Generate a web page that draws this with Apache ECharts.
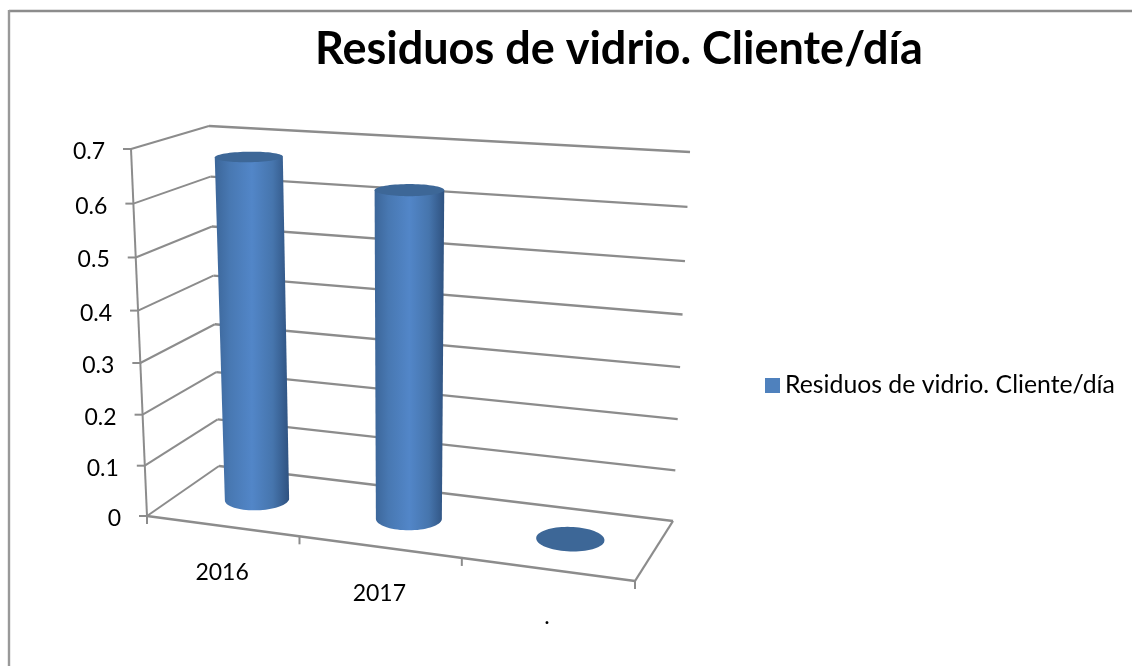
<!DOCTYPE html>
<html>
<head>
<meta charset="utf-8">
<style>html,body{margin:0;padding:0;background:#fff}#c{width:1132px;height:666px}</style>
<script src="https://cdn.jsdelivr.net/npm/echarts@6/dist/echarts.min.js"></script>
</head>
<body>
<div id="c"></div>
<script>
const titleText = 'Residuos de vidrio. Cliente/día';
const seriesName = 'Residuos de vidrio. Cliente/día';
const categories = ['2016', '2017', '.'];
const values = [0.671, 0.628, 0];
const yTicks = [0, 0.1, 0.2, 0.3, 0.4, 0.5, 0.6, 0.7];

// View of the 3D box (screen corners of the floor and of the ceiling plane)
const GRID = { left: 147, top: 149, width: 488, height: 367 };
const FLOOR = [[147, 516], [635, 581], [673, 521], [219, 466]];
const CEIL = [[131, 149], [651, 180], [690, 152], [209, 126]];
const VERT_WARP = 1.049;
const GRID_C = '#8c8c8c';
const FONT = 'Lato';

function homography(q) {
  const [x0, y0] = q[0], [x1, y1] = q[1], [x2, y2] = q[2], [x3, y3] = q[3];
  const dx1 = x1 - x2, dx2 = x3 - x2, sx = x0 - x1 + x2 - x3;
  const dy1 = y1 - y2, dy2 = y3 - y2, sy = y0 - y1 + y2 - y3;
  const den = dx1 * dy2 - dx2 * dy1;
  const g = (sx * dy2 - dx2 * sy) / den, h = (dx1 * sy - sx * dy1) / den;
  const a = x1 - x0 + g * x1, b = x3 - x0 + h * x3;
  const d = y1 - y0 + g * y1, e = y3 - y0 + h * y3;
  return (u, v) => {
    const w = g * u + h * v + 1;
    return [(a * u + b * v + x0) / w, (d * u + e * v + y0) / w];
  };
}
const floorH = homography(FLOOR), ceilH = homography(CEIL);
// u: 0..1 along categories, depth: 0 (front)..1 (back), h: 0..1 of the value axis
function project(u, depth, h) {
  const b = floorH(u, depth), t = ceilH(u, depth);
  const f = h / (h + (1 - h) * VERT_WARP);
  return [b[0] + (t[0] - b[0]) * f, b[1] + (t[1] - b[1]) * f];
}
const toU = x => (x - GRID.left) / GRID.width;
const toH = y => (GRID.top + GRID.height - y) / GRID.height;

// Axis labels follow the front edges of the box
const yMargin = 26, xMargin = 30, xLine = 26;
const yRich = {}, xRich = {};
yTicks.forEach((t, i) => {
  const h = t / yTicks[yTicks.length - 1];
  const p = project(0, 0, h);
  const linY = GRID.top + GRID.height * (1 - h);
  yRich['y' + i] = {
    fontFamily: FONT, fontSize: 23, color: '#000',
    padding: [5 + Math.max(0, 2 * (p[1] - linY)), GRID.left - p[0], 0, 0]
  };
});
categories.forEach((c, i) => {
  const u = (i + 0.5) / categories.length;
  const p = project(u, 0, 0);
  const x = GRID.left + GRID.width * u;
  xRich['x' + i] = {
    fontFamily: FONT, fontSize: 23, color: '#000', lineHeight: xLine,
    padding: [Math.max(0, 2 * (p[1] + 45 - 557)), Math.max(0, 2 * (x - p[0])), 0, 0]
  };
});

function seg(a, b, w) {
  return {
    type: 'line',
    shape: { x1: a[0], y1: a[1], x2: b[0], y2: b[1] },
    style: { stroke: GRID_C, lineWidth: w || 2, fill: null }
  };
}

function renderWall(params, api) {
  const y = api.coord([0, api.value(1)])[1];
  const h = toH(y);
  const front = project(0, 0, h), back = project(0, 1, h), right = project(1, 1, h);
  return {
    type: 'group',
    children: [
      seg(front, back), seg(back, right, 2.3),
      seg([front[0] - 8, front[1]], front)
    ]
  };
}
function renderFloorTick(params, api) {
  const band = api.size([1, 0])[0];
  const idx = api.value(0);
  const x0 = api.coord([Math.min(idx, categories.length - 1), 0])[0];
  const x = x0 + (idx < categories.length ? -band / 2 : band / 2);
  const p = project(toU(x), 0, 0);
  const kids = [seg(p, [p[0], p[1] + 8])];
  if (idx === 0) {
    kids.push(seg(p, project(0, 0, 1)));
    kids.push(seg(p, project(1, 0, 0), 2.3));
  }
  if (idx === categories.length) kids.push(seg(p, project(1, 1, 0), 2.3));
  return { type: 'group', children: kids };
}

const RU = 0.066, RD = 0.2, N = 72;
function circle(uc, h) {
  const pts = [];
  for (let i = 0; i < N; i++) {
    const a = i / N * Math.PI * 2;
    pts.push(project(uc + RU * Math.cos(a), 0.5 + RD * Math.sin(a), h));
  }
  return pts;
}
function renderCylinder(params, api) {
  const c = api.coord([api.value(0), api.value(1)]);
  const uc = toU(c[0]), h = toH(c[1]);
  const base = circle(uc, 0), top = circle(uc, h);
  const kids = [];
  if (h > 0) {
    let minI = 0, maxI = 0;
    base.forEach((p, i) => { if (p[0] < base[minI][0]) minI = i; if (p[0] > base[maxI][0]) maxI = i; });
    // front half of the base: from the left extreme through the nearest point to the right extreme
    const lower = [];
    for (let i = minI; ; i = (i + 1) % N) { lower.push(base[i]); if (i === maxI) break; }
    let tMin = 0, tMax = 0;
    top.forEach((p, i) => { if (p[0] < top[tMin][0]) tMin = i; if (p[0] > top[tMax][0]) tMax = i; });
    kids.push({
      type: 'polygon',
      shape: { points: lower.concat([top[tMax], top[tMin]]) },
      style: {
        fill: new echarts.graphic.LinearGradient(0, 0, 1, 0, [
          { offset: 0, color: '#3c6699' },
          { offset: 0.2, color: '#4878b2' },
          { offset: 0.5, color: '#5286c8' },
          { offset: 0.78, color: '#4675ad' },
          { offset: 1, color: '#2f5280' }
        ])
      }
    });
  }
  kids.push({ type: 'polygon', shape: { points: top }, style: { fill: '#3d6797' } });
  return { type: 'group', children: kids };
}

const chart = echarts.init(document.getElementById('c'), null, { renderer: 'canvas' });
chart.setOption({
  animation: false,
  backgroundColor: '#fff',
  title: {
    text: titleText, left: 310, top: 22,
    textStyle: { fontFamily: FONT, fontWeight: 'bold', fontSize: 45, color: '#000' }
  },
  legend: {
    data: [{ name: seriesName, icon: 'rect' }],
    left: 760, top: 368, itemWidth: 15, itemHeight: 15,
    textStyle: { fontFamily: FONT, fontSize: 24.8, color: '#000' }
  },
  grid: { left: GRID.left, top: GRID.top, width: GRID.width, height: GRID.height },
  xAxis: {
    type: 'category', data: categories,
    axisLine: { show: false }, axisTick: { show: false }, splitLine: { show: false },
    axisLabel: {
      interval: 0, margin: xMargin, rich: xRich,
      formatter: (v, i) => '{x' + i + '|' + v + '}'
    }
  },
  yAxis: {
    type: 'value', min: 0, max: 0.7, interval: 0.1,
    axisLine: { show: false }, axisTick: { show: false }, splitLine: { show: false },
    axisLabel: {
      margin: yMargin, rich: yRich,
      formatter: (v, i) => '{y' + i + '|' + v + '}'
    }
  },
  graphic: [
    { type: 'line', shape: { x1: 9, y1: 11, x2: 1132, y2: 11 }, style: { stroke: '#8c8c8c', lineWidth: 2.4 }, silent: true },
    { type: 'line', shape: { x1: 9, y1: 10, x2: 9, y2: 666 }, style: { stroke: '#999', lineWidth: 2.4 }, silent: true }
  ],
  series: [
    {
      type: 'custom', name: 'wall', clip: false, silent: true, z: 1,
      data: yTicks.map(t => [0, t]), encode: { x: 0, y: 1 }, renderItem: renderWall
    },
    {
      type: 'custom', name: 'floor', clip: false, silent: true, z: 1,
      data: categories.map((c, i) => [i, 0]).concat([[categories.length, 0]]), encode: { x: 0, y: 1 }, renderItem: renderFloorTick
    },
    {
      type: 'custom', name: seriesName, clip: false, z: 2,
      itemStyle: { color: '#4f81bd' },
      data: values.map((v, i) => [i, v]), encode: { x: 0, y: 1 }, renderItem: renderCylinder
    }
  ]
});
</script>
</body>
</html>
